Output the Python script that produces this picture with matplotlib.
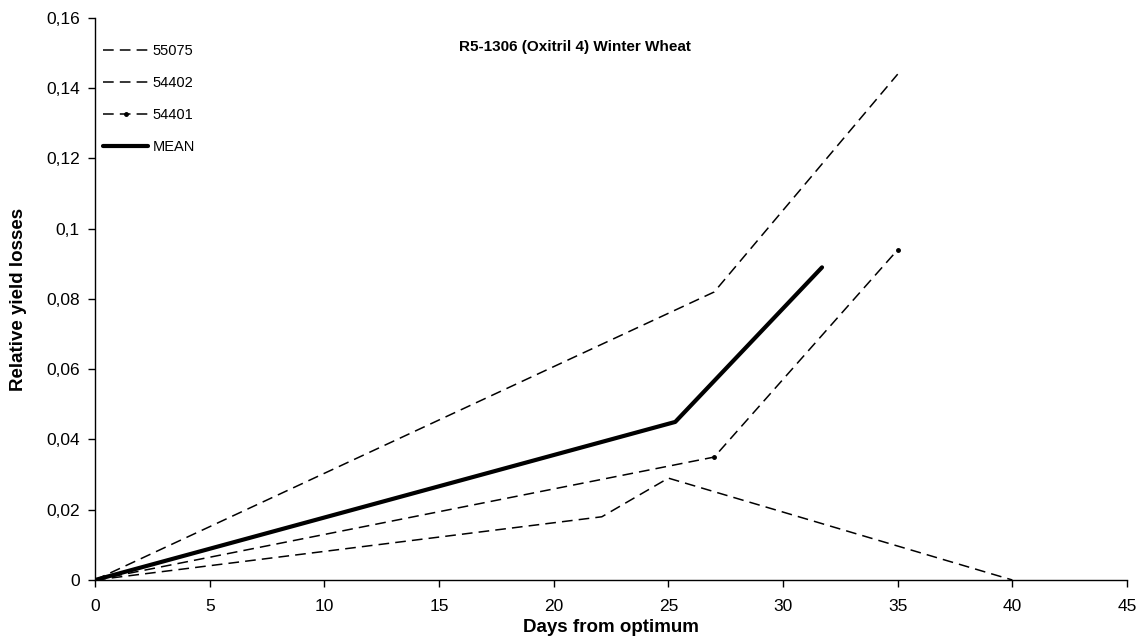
import matplotlib
matplotlib.use("Agg")
import matplotlib.pyplot as plt
from matplotlib.ticker import MultipleLocator, FuncFormatter

plt.rcParams['font.family'] = ['Liberation Sans', 'DejaVu Sans']

# Days from optimum and relative yield losses per trial
x_55075 = [0, 27, 35]
y_55075 = [0, 0.082, 0.144]

x_54402 = [0, 22.1, 25.0, 40]
y_54402 = [0, 0.018, 0.029, 0]

x_54401 = [0, 27, 35]
y_54401 = [0, 0.035, 0.094]

x_mean = [0, 25.3, 31.7]
y_mean = [0, 0.045, 0.089]

title = "R5-1306 (Oxitril 4) Winter Wheat"

fig = plt.figure(figsize=(11.45, 6.4), dpi=100)
ax = fig.add_axes([0.083, 0.09375, 0.9013, 0.8782])

dash = (7, 4)
ax.plot(x_55075, y_55075, color='black', lw=1.1, dashes=dash, label='55075')
ax.plot(x_54402, y_54402, color='black', lw=1.1, dashes=dash, label='54402')
ax.plot(x_54401, y_54401, color='black', lw=1.1, dashes=dash, marker='o',
        markersize=2.5, label='54401')
ax.plot(x_mean, y_mean, color='black', lw=3.0, solid_capstyle='round',
        label='MEAN')

ax.set_xlim(0, 45)
ax.set_ylim(0, 0.16)
ax.xaxis.set_major_locator(MultipleLocator(5))
ax.yaxis.set_major_locator(MultipleLocator(0.02))
ax.yaxis.set_major_formatter(FuncFormatter(
    lambda v, p: '0' if abs(v) < 1e-12 else f"{v:.2f}".rstrip('0').replace('.', ',')))

for s in ('top', 'right'):
    ax.spines[s].set_visible(False)
for s in ('left', 'bottom'):
    ax.spines[s].set_linewidth(1.0)
ax.tick_params(axis='both', direction='out', length=5, width=1.0,
               labelsize=12.5)
ax.tick_params(axis='x', pad=9)
ax.tick_params(axis='y', pad=6)

ax.set_xlabel("Days from optimum", fontsize=13.5, fontweight='bold', labelpad=3)
ax.set_ylabel("Relative yield losses", fontsize=13.5, fontweight='bold', labelpad=14)

ax.text(0.465, 0.948, title, transform=ax.transAxes, ha='center', va='center',
        fontsize=11, fontweight='bold')

ax.legend(loc='upper left', bbox_to_anchor=(0.008, 0.953), frameon=False,
          fontsize=10.5, handlelength=3.1, handletextpad=0.3,
          labelspacing=1.22, borderpad=0, borderaxespad=0)

fig.savefig("out.png", dpi=100)
